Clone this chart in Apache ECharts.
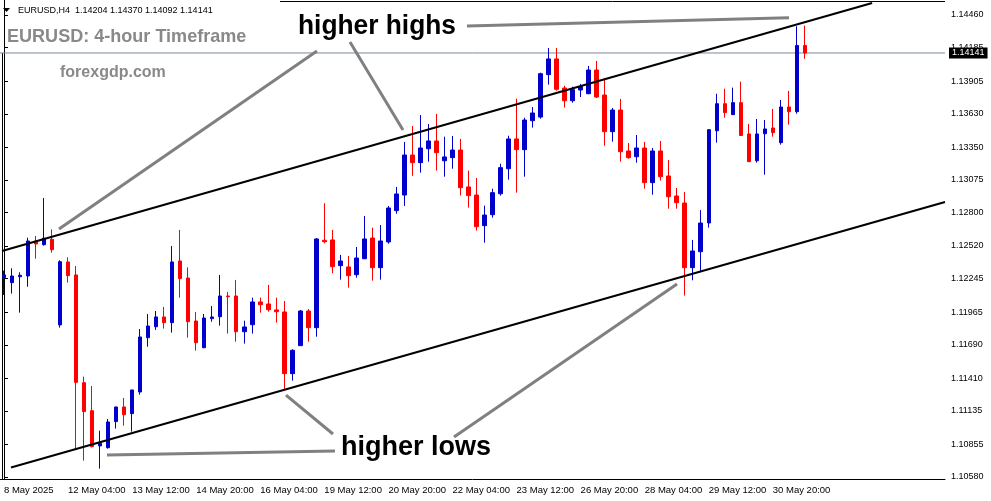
<!DOCTYPE html>
<html>
<head>
<meta charset="utf-8">
<script src="https://cdn.jsdelivr.net/npm/echarts@6/dist/echarts.min.js"></script>
<style>
  html, body { margin: 0; padding: 0; background: #fff; }
  #chart { width: 991px; height: 501px; }
</style>
</head>
<body>
<div id="chart"></div>
<script>
// ---------- data ----------
const tradingDays = ['8 May','9 May','12 May','13 May','14 May','15 May','16 May','19 May','20 May','21 May','22 May','23 May','26 May','27 May','28 May','29 May','30 May','2 Jun'];
const sessionHours = ['00:00','04:00','08:00','12:00','16:00','20:00'];
const categories = tradingDays.flatMap(d => sessionHours.map(h => d + ' ' + h)).slice(5, 106);

const tickLabels = ['8 May 2025','12 May 04:00','13 May 12:00','14 May 20:00','16 May 04:00','19 May 12:00','20 May 20:00','22 May 04:00','23 May 12:00','26 May 20:00','28 May 04:00','29 May 12:00','30 May 20:00'];
const priceLabels = ['1.10580','1.10855','1.11135','1.11410','1.11690','1.11965','1.12245','1.12520','1.12800','1.13075','1.13350','1.13630','1.13905','1.14185','1.14460'];

const opens = [1.12254,1.12212,1.12262,1.12268,1.12562,1.12531,1.12576,1.11857,1.12386,1.12277,
1.11372,1.11137,1.10841,1.10826,1.11045,1.11168,1.11112,1.11294,1.11750,1.11842,
1.11924,1.11876,1.12394,1.12251,1.11890,1.11666,1.11910,1.11926,1.12100,1.12100,
1.11800,1.11859,1.12050,1.12033,1.11983,1.11966,1.11448,1.11683,1.11974,1.11834,
1.12568,1.12571,1.12355,1.12344,1.12279,1.12413,1.12587,1.12338,1.12554,1.12817,
1.12948,1.13284,1.13220,1.13337,1.13402,1.13236,1.13262,1.13326,1.13016,1.12948,
1.12691,1.12783,1.12959,1.13169,1.13419,1.13329,1.13572,1.13603,1.13959,1.14091,
1.13847,1.13740,1.13830,1.13799,1.13998,1.13788,1.13480,1.13662,1.13318,1.13270,
1.13343,1.13052,1.13318,1.13108,1.12940,1.12881,1.12338,1.12472,1.12713,1.13488,
1.13715,1.13623,1.13724,1.13461,1.13236,1.13463,1.13511,1.13388,1.13687,1.13648,
1.14204];
const highs = [1.12313,1.12333,1.12299,1.12590,1.12604,1.12923,1.12660,1.12400,1.12425,1.12352,
1.11423,1.11344,1.10969,1.11067,1.11170,1.11244,1.11311,1.11823,1.11949,1.11974,
1.12008,1.12520,1.12655,1.12341,1.11966,1.11949,1.12016,1.12277,1.12134,1.12235,
1.11893,1.12086,1.12086,1.12193,1.12086,1.12058,1.11653,1.11983,1.11991,1.12587,
1.12879,1.12655,1.12445,1.12436,1.12512,1.12772,1.12674,1.12696,1.12856,1.13016,
1.13394,1.13528,1.13620,1.13545,1.13629,1.13438,1.13444,1.13419,1.13153,1.13091,
1.12859,1.13001,1.13211,1.13446,1.13757,1.13598,1.13687,1.13976,1.14183,1.14183,
1.13866,1.13858,1.13881,1.14032,1.14074,1.13931,1.13679,1.13755,1.13385,1.13452,
1.13394,1.13343,1.13402,1.13242,1.13007,1.12974,1.12571,1.12822,1.13500,1.13799,
1.13841,1.13850,1.13900,1.13545,1.13587,1.13578,1.13671,1.13746,1.13822,1.14365,
1.14370];
const lows = [1.12109,1.12120,1.11960,1.12178,1.12413,1.12523,1.12464,1.11834,1.12212,1.10807,
1.10717,1.10828,1.10650,1.10818,1.10986,1.11011,1.10961,1.11271,1.11674,1.11815,
1.11826,1.11792,1.12086,1.11750,1.11641,1.11661,1.11884,1.11851,1.11784,1.11716,
1.11700,1.11784,1.11960,1.11968,1.11876,1.11305,1.11389,1.11680,1.11716,1.11758,
1.12543,1.12291,1.12237,1.12170,1.12254,1.12410,1.12229,1.12237,1.12539,1.12791,
1.12856,1.13110,1.13136,1.13228,1.13153,1.13102,1.13169,1.12943,1.12842,1.12649,
1.12548,1.12758,1.12943,1.13077,1.12968,1.13102,1.13514,1.13589,1.13875,1.13824,
1.13682,1.13724,1.13771,1.13795,1.13763,1.13362,1.13396,1.13228,1.13253,1.13220,
1.13001,1.12951,1.13069,1.12833,1.12833,1.12103,1.12232,1.12299,1.12674,1.13388,
1.13598,1.13620,1.13445,1.13225,1.13220,1.13119,1.13438,1.13371,1.13539,1.13631,
1.14092];
const closes = [1.12277,1.12268,1.12274,1.12562,1.12537,1.12585,1.12489,1.12388,1.12271,1.11375,
1.11129,1.10835,1.10863,1.11042,1.11168,1.11103,1.11311,1.11756,1.11848,1.11924,
1.11876,1.12386,1.12246,1.11884,1.11708,1.11915,1.11924,1.12100,1.12094,1.11800,
1.11840,1.12050,1.12027,1.11985,1.11968,1.11448,1.11644,1.11974,1.11834,1.12579,
1.12556,1.12346,1.12394,1.12271,1.12419,1.12579,1.12338,1.12562,1.12839,1.12957,
1.13284,1.13220,1.13343,1.13402,1.13304,1.13268,1.13326,1.13010,1.12943,1.12682,
1.12780,1.12968,1.13178,1.13419,1.13329,1.13578,1.13637,1.13967,1.14091,1.13836,
1.13740,1.13833,1.13858,1.13998,1.13771,1.13480,1.13662,1.13312,1.13262,1.13343,
1.13052,1.13318,1.13102,1.12934,1.12884,1.12338,1.12478,1.12713,1.13497,1.13715,
1.13640,1.13724,1.13448,1.13228,1.13461,1.13503,1.13472,1.13687,1.13648,1.14204,
1.14141];

const bidPrice = 1.14141;

// drawn lines: [barIndex, price] endpoints
const upperChannel = [[-0.25, 1.12478], [108.4, 1.14561]];
const lowerChannel = [[0.87, 1.10659], [117.5, 1.12889]];
const pointerLines = [
  [[6.87, 1.12663], [39.08, 1.14158]],
  [[43.2, 1.14233], [49.82, 1.13494]],
  [[57.81, 1.14368], [98.02, 1.14437]],
  [[12.86, 1.10765], [41.33, 1.10798]],
  [[35.21, 1.11268], [41.08, 1.10941]],
  [[56.19, 1.10916], [84.04, 1.12201]]
];

// ---------- chart ----------
const TOTAL_SLOTS = 118;
const xData = categories.concat(Array.from({length: TOTAL_SLOTS - categories.length}, (_, k) => ' ' + k));
const showTick = (idx) => idx % 8 === 0 && idx / 8 < tickLabels.length;
const priceTicks = priceLabels.map(Number);

const chart = echarts.init(document.getElementById('chart'), null, {renderer: 'canvas'});

const lineSeries = (pts, color, width) => ({
  type: 'line', xAxisIndex: 1, yAxisIndex: 0, data: pts, symbol: 'none', silent: true,
  lineStyle: {color: color, width: width}, z: 5, animation: false
});

const option = {
  animation: false,
  backgroundColor: '#ffffff',
  grid: {left: 0, right: 46, top: 0, bottom: 22},
  xAxis: [{
    type: 'category', data: xData, boundaryGap: true,
    axisLine: {onZero: false, lineStyle: {color: '#000', width: 1}},
    axisTick: {alignWithLabel: true, length: 4, interval: (i) => showTick(i), lineStyle: {color: '#000'}},
    axisLabel: {
      interval: (i) => showTick(i),
      formatter: (v, i) => showTick(i) ? tickLabels[i / 8] : '',
      align: 'left', margin: 6, color: '#000', fontFamily: 'Liberation Sans', fontSize: 9.5
    },
    splitLine: {show: false}
  }, {
    type: 'value', show: false, min: -0.5, max: TOTAL_SLOTS - 0.5
  }],
  yAxis: {
    type: 'value', position: 'right', min: 1.10563, max: 1.14586, scale: true,
    axisLine: {show: true, lineStyle: {color: '#000', width: 1}},
    axisTick: {show: true, length: 4, customValues: priceTicks, lineStyle: {color: '#000'}},
    axisLabel: {
      customValues: priceTicks,
      formatter: (v) => { const s = priceLabels.find(p => Math.abs(Number(p) - v) < 1e-7); return s || v.toFixed(5); },
      margin: 6, color: '#000', fontFamily: 'Liberation Sans', fontSize: 9
    },
    splitLine: {show: false}
  },
  series: [
    {
      type: 'line', xAxisIndex: 1, yAxisIndex: 0, z: 1, silent: true, symbol: 'none',
      data: [[-0.5, bidPrice], [TOTAL_SLOTS - 0.5, bidPrice]],
      lineStyle: {color: '#778899', width: 1},
      endLabel: {show: true, formatter: bidPrice.toFixed(5), backgroundColor: '#000', color: '#fff',
        fontFamily: 'Liberation Sans', fontSize: 9, padding: [1, 3, 1, 3], distance: 4}
    },
    {
      type: 'candlestick', xAxisIndex: 0, yAxisIndex: 0, z: 3,
      barWidth: 4,
      data: categories.map((_, i) => [opens[i], closes[i], lows[i], highs[i]]),
      itemStyle: {color: '#0000CD', color0: '#FF0000', borderColor: '#0000CD', borderColor0: '#FF0000', borderWidth: 1}
    },
    lineSeries(upperChannel, '#000', 2),
    lineSeries(lowerChannel, '#000', 2),
    ...pointerLines.map(p => lineSeries(p, '#808080', 3))
  ],
  graphic: [
    {type: 'line', shape: {x1: 2.5, y1: 53, x2: 2.5, y2: 479}, style: {stroke: '#000', lineWidth: 1}, silent: true},
    {type: 'line', shape: {x1: 280, y1: 1.5, x2: 945, y2: 1.5}, style: {stroke: '#000', lineWidth: 1}, silent: true},
    {type: 'polygon', shape: {points: [[3, 8], [10, 8], [6.5, 12]]}, style: {fill: '#000'}, silent: true},
    {type: 'text', x: 18, y: 10.5, style: {text: 'EURUSD,H4  1.14204 1.14370 1.14092 1.14141', font: '9px "Liberation Sans"', fill: '#000', verticalAlign: 'middle'}, silent: true},
    {type: 'text', x: 7, y: 36.5, scaleX: 0.95, style: {text: 'EURUSD: 4-hour Timeframe', font: 'bold 19px "Liberation Sans"', fill: '#898989', verticalAlign: 'middle'}, silent: true},
    {type: 'text', x: 60, y: 73, style: {text: 'forexgdp.com', font: 'bold 16px "Liberation Sans"', fill: '#898989', verticalAlign: 'middle'}, silent: true},
    {type: 'text', x: 298, y: 26.5, scaleX: 0.94, style: {text: 'higher highs', font: 'bold 28px "Liberation Sans"', fill: '#000', verticalAlign: 'middle'}, silent: true},
    {type: 'text', x: 341, y: 447.5, scaleX: 0.965, style: {text: 'higher lows', font: 'bold 28px "Liberation Sans"', fill: '#000', verticalAlign: 'middle'}, silent: true}
  ]
};
chart.setOption(option);
</script>
</body>
</html>
